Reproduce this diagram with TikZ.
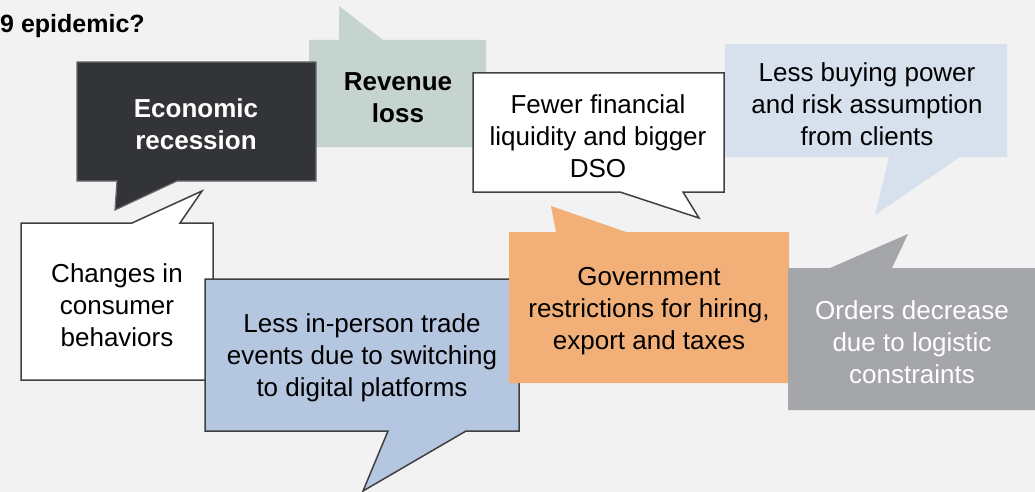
\documentclass[tikz,border=0pt]{standalone}
\usepackage{fontspec}
\setmainfont{Liberation Sans}
\definecolor{bg}{HTML}{F2F2F2}
\definecolor{revc}{HTML}{C6D4CF}
\definecolor{darkc}{HTML}{333437}
\definecolor{darkb}{HTML}{6A6B6E}
\definecolor{bluec}{HTML}{B4C6E0}
\definecolor{orangec}{HTML}{F2AF78}
\definecolor{lbluec}{HTML}{D7E1ED}
\definecolor{grayc}{HTML}{A5A6AA}
\definecolor{edgec}{HTML}{404040}
\tikzset{
  txt/.style={align=center,font=\fontsize{26}{32}\selectfont,inner sep=0pt},
  btxt/.style={txt,font=\fontsize{26}{32}\selectfont\bfseries},
  framed/.style={draw=edgec,line width=1.5pt,line join=miter},
}
\begin{document}
\begin{tikzpicture}[x=1pt,y=-1pt]
\useasboundingbox (0,0) rectangle (1035,492);
\clip (0,0) rectangle (1035,492);
\fill[bg] (0,0) rectangle (1035,492);
\node[anchor=base west,inner sep=0pt,font=\fontsize{25}{30}\selectfont\bfseries] (title) at (0,33) {9 epidemic?};
% Revenue loss
\fill[revc] (309,40) -- (339,40) -- (339,6) -- (383,40) -- (486,40) -- (486,147) -- (309,147) -- cycle;
\node[btxt] (rev) at (398,98) {Revenue\\loss};
% Economic recession
\filldraw[fill=darkc,draw=darkb,line width=1.2pt] (77,62) -- (316,62) -- (316,181) -- (177,181) -- (115,210) -- (117,181) -- (77,181) -- cycle;
\node[btxt,text=white] (eco) at (196,124) {Economic\\recession};
% Changes in consumer behaviors
\filldraw[fill=white,framed] (21,223) -- (132,223) -- (202,191) -- (180,223) -- (213,223) -- (213,380) -- (21,380) -- cycle;
\node[txt] (chg) at (117,305) {Changes in\\consumer\\behaviors};
% Less buying power
\fill[lbluec] (725,44) -- (1007,44) -- (1007,157) -- (960,157) -- (875,215) -- (889,157) -- (725,157) -- cycle;
\node[txt] (buy) at (867,104) {Less buying power\\and risk assumption\\from clients};
% Fewer financial liquidity
\filldraw[fill=white,framed] (473,73) -- (724,73) -- (724,192) -- (683,192) -- (699,218) -- (620,192) -- (473,192) -- cycle;
\node[txt] (few) at (598,136) {Fewer financial\\liquidity and bigger\\DSO};
% Less in-person trade events
\filldraw[fill=bluec,framed] (205,279) -- (519,279) -- (519,431) -- (466,431) -- (363,491) -- (388,431) -- (205,431) -- cycle;
\node[txt] (trade) at (362,358) {Less in-person trade\\events due to switching\\to digital platforms};
% Government restrictions
\fill[orangec] (509,232) -- (556,232) -- (551,206) -- (626,232) -- (789,232) -- (789,383) -- (509,383) -- cycle;
\node[txt] (gov) at (649,311) {Government\\restrictions for hiring,\\export and taxes};
% Orders decrease
\fill[grayc] (788,268) -- (830,268) -- (908,234) -- (892,268) -- (1040,268) -- (1040,410) -- (788,410) -- cycle;
\node[txt,text=white] (ord) at (912,342) {Orders decrease\\due to logistic\\constraints};
\end{tikzpicture}
\end{document}
